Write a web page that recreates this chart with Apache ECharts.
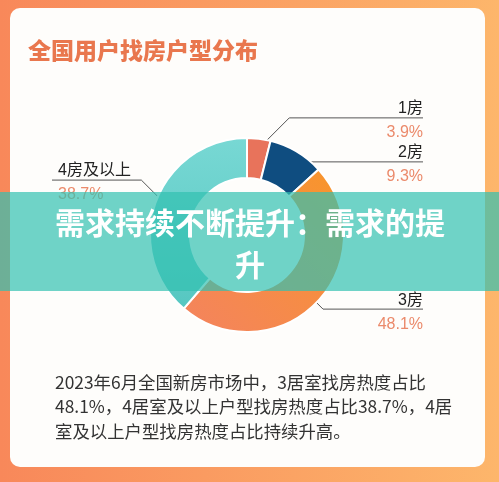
<!DOCTYPE html>
<html>
<head>
<meta charset="utf-8">
<script src="https://cdn.jsdelivr.net/npm/echarts@6/dist/echarts.min.js"></script>
<style>
html,body{margin:0;padding:0;background:#fff;}
#c{width:499px;height:482px;}
</style>
</head>
<body>
<div id="c"></div>
<script>
// ---- data ----
const categories = ['1房', '2房', '3房', '4房及以上'];
const shares = [3.9, 9.3, 48.1, 38.7];
const titleText = '全国用户找房户型分布';
const bannerText = '需求持续不断提升：需求的提\n升';
const noteLines = [
  '2023年6月全国新房市场中，3居室找房热度占比',
  '48.1%，4居室及以上户型找房热度占比38.7%，4居',
  '室及以上户型找房热度占比持续升高。'
];

// ---- styles / layout ----
const LG = echarts.graphic.LinearGradient;
const sliceColors = [
  '#e8735b',
  '#0f4d80',
  new LG(1, 0, 0, 1, [{offset: 0, color: '#f8962a'}, {offset: 1, color: '#f4835f'}]),
  new LG(0, 0, 0, 1, [{offset: 0, color: '#78d8d4'}, {offset: 1, color: '#56c7c1'}])
];
const lineLengths = [21, 21, 9.5, 61];
const boxLeft = 58, boxRight = 76;
const cx = 247, cy = 235, rIn = 57, rOut = 97, rLineStart = 86;

const chart = echarts.init(document.getElementById('c'));

const option = {
  animation: false,
  graphic: {
    elements: [
      {type: 'rect', z: -20, shape: {x: 0, y: 0, width: 499, height: 482},
        style: {fill: new LG(0, 0, 1, 0, [{offset: 0, color: '#f8885a'}, {offset: 1, color: '#fdb66b'}])}},
      {type: 'rect', z: -19, shape: {x: 10, y: 8, width: 475, height: 459, r: 10},
        style: {fill: '#fefdfb'}},
      {type: 'text', z: -18, x: 28, y: 50,
        style: {text: titleText, fill: '#e9774e', font: '900 23px "Noto Sans CJK SC"', verticalAlign: 'middle'}},
      {type: 'text', z: -18, x: 55, y: 370,
        style: {text: noteLines.join('\n'), fill: '#333', font: '17.4px "Noto Sans CJK SC"', lineHeight: 24.5, verticalAlign: 'top'}},
      {type: 'rect', z: 100, shape: {x: 0, y: 192, width: 499, height: 99},
        style: {fill: 'rgba(50,193,176,0.7)'}},
      {type: 'text', z: 101, x: 250, y: 244,
        style: {text: bannerText, fill: '#fff', font: 'bold 30px "Noto Sans CJK SC"', align: 'center', verticalAlign: 'middle', lineHeight: 42}}
    ]
  },
  series: [{
    type: 'pie',
    left: boxLeft, right: boxRight, top: 0, bottom: 0,
    center: [cx - boxLeft, cy],
    radius: [rIn, rOut],
    startAngle: 90,
    clockwise: true,
    avoidLabelOverlap: true,
    itemStyle: {borderColor: '#fff', borderWidth: 2},
    label: {
      alignTo: 'edge',
      edgeDistance: 0,
      overflow: 'none',
      minMargin: 4,
      formatter: '{n|{b}}\n{v|{c}%}',
      rich: {
        n: {fontSize: 16, lineHeight: 30, color: '#222', fontFamily: 'Arial, "Liberation Sans", "Noto Sans CJK SC"'},
        v: {fontSize: 16, lineHeight: 18, color: '#eb8a6b', fontFamily: 'Arial, "Liberation Sans", "Noto Sans CJK SC"'}
      }
    },
    labelLine: {length: 21, length2: 0, lineStyle: {color: '#555', width: 1}},
    labelLayout: function (params) {
      const isLeft = params.labelRect.x < chart.getWidth() / 2;
      const pts = params.labelLinePoints;
      if (!pts) return {};
      const k = rLineStart / rOut;
      pts[0][0] = cx + (pts[0][0] - cx) * k;
      pts[0][1] = cy + (pts[0][1] - cy) * k;
      pts[1][0] = pts[0][0] + (isLeft ? -1 : 1) * Math.abs(pts[1][1] - pts[0][1]);
      pts[2][0] = isLeft ? params.labelRect.x - 6 : params.labelRect.x + params.labelRect.width;
      return {labelLinePoints: pts};
    },
    data: categories.map((name, i) => ({
      name: name,
      value: shares[i],
      itemStyle: {color: sliceColors[i]},
      labelLine: {length: lineLengths[i]}
    }))
  }]
};
chart.setOption(option);
</script>
</body>
</html>
